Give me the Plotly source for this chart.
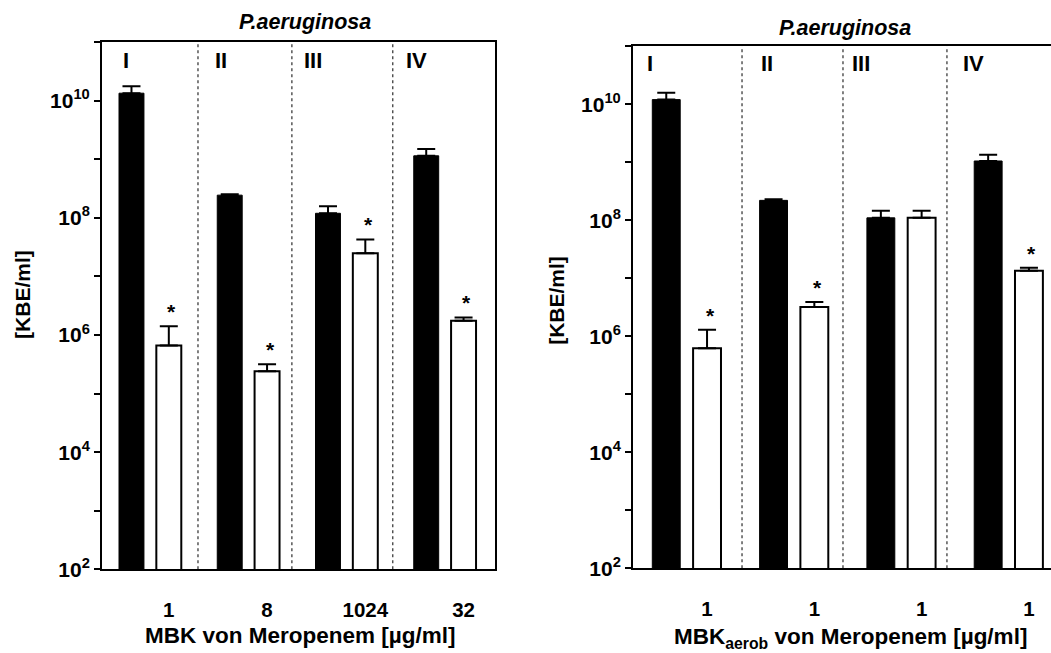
import math
import plotly.graph_objects as go

# ---------------- data ----------------
groups = ["I", "II", "III", "IV"]

left_labels = ["1", "8", "1024", "32"]
left_black = [1.35e10, 2.45e8, 1.2e8, 1.15e9]
left_black_sd = [4.3e9, 1.0e7, 3.8e7, 3.6e8]
left_white = [6.6e5, 2.4e5, 2.5e7, 1.75e6]
left_white_sd = [7.5e5, 7.6e4, 1.8e7, 2.5e5]
left_star = [True, True, True, True]

right_labels = ["1", "1", "1", "1"]
right_black = [1.2e10, 2.2e8, 1.1e8, 1.05e9]
right_black_sd = [3.8e9, 1.0e7, 3.5e7, 3.0e8]
right_white = [6.2e5, 3.2e6, 1.1e8, 1.35e7]
right_white_sd = [6.7e5, 7.0e5, 3.5e7, 1.6e6]
right_star = [True, True, False, True]

ytick_exp = list(range(2, 12))

# ---------------- layout constants ----------------
W, H = 1051, 653
FONT = "Liberation Sans"

def px_x(p):
    return p / W

def px_y(p):
    return (H - p) / H

fig = go.Figure()

panels = [
    dict(xa="x", ya="y", black=left_black, bsd=left_black_sd, white=left_white,
         wsd=left_white_sd, labels=left_labels, star=left_star,
         boff=0.30, woff=0.68, bw=0.254,
         seps=[0.977, 1.933, 2.96],
         roman_x=[0.19, 1.13, 2.04, 3.07], roman_y=62,
         title_x=305, title_y=22, ytitle_x=23, ytitle_y=300,
         xtitle="MBK von Meropenem [µg/ml]", xtitle_x=300, xtitle_y=646),
    dict(xa="x2", ya="y2", black=right_black, bsd=right_black_sd, white=right_white,
         wsd=right_white_sd, labels=right_labels, star=right_star,
         boff=0.31, woff=0.69, bw=0.26,
         seps=[1.016, 1.957, 2.926],
         roman_x=[0.11, 1.17, 2.02, 3.06], roman_y=65,
         title_x=845, title_y=28, ytitle_x=557, ytitle_y=306,
         xtitle="MBK<sub>aerob</sub> von Meropenem [µg/ml]", xtitle_x=850, xtitle_y=649),
]

annotations = []
shapes = []

for p in panels:
    bx = [i + p["boff"] for i in range(len(groups))]
    wx = [i + p["woff"] for i in range(len(groups))]
    fig.add_trace(go.Bar(
        x=bx, y=p["black"], width=p["bw"], xaxis=p["xa"], yaxis=p["ya"],
        marker=dict(color="black", line=dict(color="black", width=1)),
        error_y=dict(type="data", array=p["bsd"], arrayminus=[0] * 4, symmetric=False,
                     color="black", thickness=2, width=9),
        showlegend=False, hoverinfo="skip"))
    fig.add_trace(go.Bar(
        x=wx, y=p["white"], width=p["bw"], xaxis=p["xa"], yaxis=p["ya"],
        marker=dict(color="white", line=dict(color="black", width=2)),
        error_y=dict(type="data", array=p["wsd"], arrayminus=[0] * 4, symmetric=False,
                     color="black", thickness=2, width=9),
        showlegend=False, hoverinfo="skip"))
    for s in p["seps"]:
        shapes.append(dict(type="line", xref=p["xa"], yref=p["ya"] + " domain",
                           x0=s, x1=s, y0=0, y1=1,
                           line=dict(color="black", width=1, dash="dot")))
    for g, rx in zip(groups, p["roman_x"]):
        annotations.append(dict(text=g, xref=p["xa"], yref="paper", x=rx,
                                y=px_y(p["roman_y"]), xanchor="left", yanchor="middle",
                                showarrow=False,
                                font=dict(family=FONT, size=22, color="black", weight="bold")))
    for xv, v, sd, st in zip(wx, p["white"], p["wsd"], p["star"]):
        if st:
            annotations.append(dict(text="*", xref=p["xa"], yref=p["ya"], x=xv,
                                    y=math.log10(v + sd), xanchor="center", yanchor="bottom",
                                    xshift=3, yshift=1, showarrow=False,
                                    font=dict(family=FONT, size=21, color="black", weight="bold")))
    annotations.append(dict(text="P.aeruginosa", xref="paper", yref="paper",
                            x=px_x(p["title_x"]), y=px_y(p["title_y"]),
                            xanchor="center", yanchor="middle", showarrow=False,
                            font=dict(family=FONT, size=21.5, color="black",
                                      weight="bold", style="italic")))
    annotations.append(dict(text="[KBE/ml]", xref="paper", yref="paper",
                            x=px_x(p["ytitle_x"]), y=px_y(p["ytitle_y"]), textangle=-90,
                            xanchor="center", yanchor="middle", showarrow=False,
                            font=dict(family=FONT, size=21, color="black", weight="bold")))
    annotations.append(dict(text=p["xtitle"], xref="paper", yref="paper",
                            x=px_x(p["xtitle_x"]), y=px_y(p["xtitle_y"]),
                            xanchor="center", yanchor="middle", showarrow=False,
                            font=dict(family=FONT, size=22.5, color="black", weight="bold")))

ytickvals = [10 ** k for k in ytick_exp]
yticktext = ["10<sup>%d</sup>" % k if k % 2 == 0 else "" for k in ytick_exp]

common_y = dict(type="log", range=[2, 11], tickvals=ytickvals, ticktext=yticktext,
                ticks="outside", ticklen=6, tickwidth=2, tickcolor="black",
                showline=True, linewidth=2, linecolor="black", showgrid=False,
                zeroline=False,
                tickfont=dict(family=FONT, size=21, color="black", weight="bold"))
common_x = dict(showline=True, linewidth=2, linecolor="black", mirror=True,
                showgrid=False, zeroline=False, ticks="", ticklabelstandoff=21,
                tickfont=dict(family=FONT, size=20.5, color="black", weight="bold"))

fig.update_layout(
    width=W, height=H, margin=dict(l=0, r=0, t=0, b=0),
    paper_bgcolor="white", plot_bgcolor="white",
    barmode="overlay",
    xaxis=dict(common_x, domain=[px_x(102), px_x(495)], range=[0, 4.0],
               tickvals=[i + 0.68 for i in range(4)], ticktext=left_labels, anchor="y"),
    yaxis=dict(common_y, domain=[px_y(579), px_y(43)], mirror=True, anchor="x"),
    xaxis2=dict(common_x, domain=[px_x(633), 1.0], range=[0, (W - 633) / 107.3],
                tickvals=[i + 0.69 for i in range(4)], ticktext=right_labels, anchor="y2"),
    yaxis2=dict(common_y, domain=[px_y(578), px_y(47)], mirror=False, anchor="x2"),
    annotations=annotations, shapes=shapes,
)

fig.write_html("out.html")
